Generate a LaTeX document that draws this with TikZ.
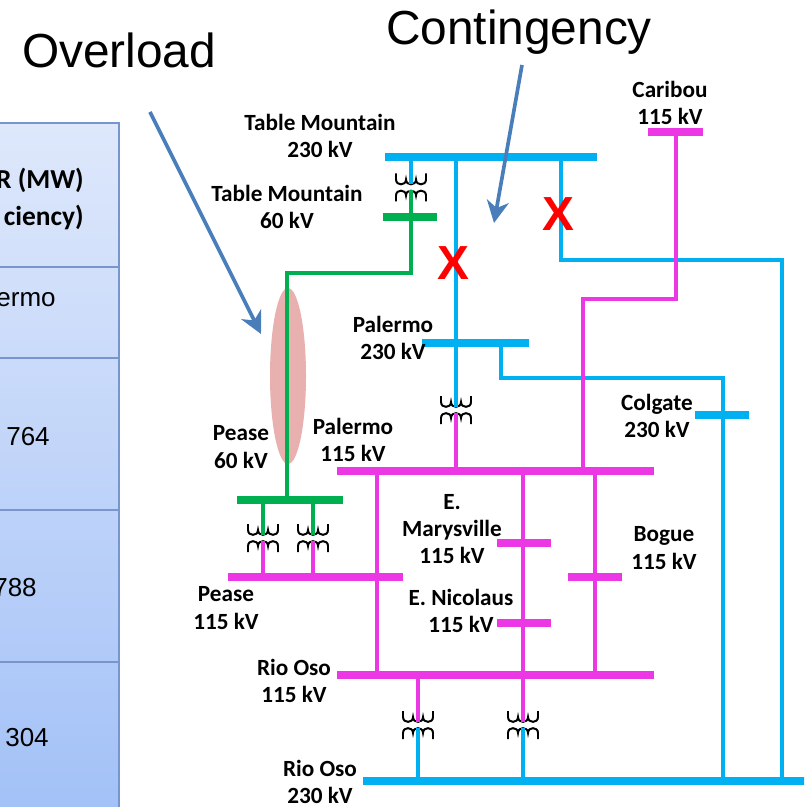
\documentclass[tikz,border=0pt]{standalone}
\usepackage{fontspec}
\setmainfont{Liberation Sans}
\newfontfamily\lblfont{Carlito}
\usetikzlibrary{positioning, arrows.meta, shapes.geometric, calc}

\definecolor{busblue}{RGB}{0,176,240}
\definecolor{busmag}{RGB}{236,56,228}
\definecolor{busgreen}{RGB}{0,176,80}
\definecolor{callblue}{RGB}{74,126,187}
\definecolor{hotpink}{RGB}{232,176,174}
\definecolor{tabtop}{RGB}{222,232,251}
\definecolor{tabbot}{RGB}{163,193,247}
\definecolor{tabrule}{RGB}{120,150,205}

% transformer symbol, two windings facing each other
\tikzset{
    xfmr/.pic={
        \draw[line width=1.4pt, black] (-15,-14) -- (-15,-8)
            .. controls (-15,-1.5) and (-5,-1.5) .. (-5,-8)
            .. controls (-5,-1.5) and (5,-1.5) .. (5,-8)
            .. controls (5,-1.5) and (15,-1.5) .. (15,-8) -- (15,-14);
        \draw[line width=1.4pt, black] (-15,14) -- (-15,8)
            .. controls (-15,1.5) and (-5,1.5) .. (-5,8)
            .. controls (-5,1.5) and (5,1.5) .. (5,8)
            .. controls (5,1.5) and (15,1.5) .. (15,8) -- (15,14);
        \coordinate (-hv) at (0,-3);
        \coordinate (-lv) at (0,3);
    }
}

\begin{document}
\begin{tikzpicture}[
    x=0.025cm, y=-0.025cm,
    % Node styles
    bus/.style={
        rectangle,
        inner sep=0pt,
        minimum height=0.21cm,
        fill=#1
    },
    bus/.default=busblue,
    feeder/.style={
        draw=#1,
        line width=2.8pt
    },
    feeder/.default=busblue,
    lbl/.style={
        font=\lblfont\bfseries\fontsize{16.5}{19.5}\selectfont,
        align=center,
        inner sep=0pt
    },
    tabtext/.style={
        font=\fontsize{18.5}{22}\selectfont,
        inner sep=0pt
    },
    tabhead/.style={
        font=\lblfont\bfseries\fontsize{19.5}{23}\selectfont,
        inner sep=0pt
    },
    bigtext/.style={
        font=\fontsize{34}{40}\selectfont,
        inner sep=0pt
    },
    xmark/.style={
        font=\bfseries\fontsize{34}{40}\selectfont,
        text=red,
        inner sep=0pt
    },
    hotspot/.style={
        ellipse,
        fill=hotpink,
        minimum width=0.9cm,
        minimum height=4.4cm,
        inner sep=0pt
    },
    callout/.style={
        -{Stealth[length=0.55cm, width=0.55cm, inset=0.17cm]},
        line width=2.6pt,
        draw=callblue
    }
]
\useasboundingbox (0,0) rectangle (804,807);
\clip (0,0) rectangle (804,807);

% Table on the left (cut off)
\shade[top color=tabtop, bottom color=tabbot] (-5,123) rectangle (119,812);
\draw[tabrule, line width=1.5pt] (-5,123) -- (119,123) -- (119,812);
\foreach \y in {267,358,510,662} {
    \draw[tabrule, line width=1.5pt] (-5,\y) -- (119,\y);
}
\node[tabhead, anchor=base east] (hdrmw) at (84,189) {R (MW)};
\node[tabhead, anchor=base east] (hdreff) at (84,226) {ciency)};
\node[tabtext, anchor=base east] (rowpal) at (56,306) {ermo};
\node[tabtext, anchor=base east] (rowa) at (50,445) {764};
\node[tabtext, anchor=base east] (rowb) at (37,596) {788};
\node[tabtext, anchor=base east] (rowc) at (49,746) {304};

% Overloaded line
\node[hotspot] (hot) at (288,376) {};

% Transformers
\pic (t1) at (411,187.5) {xfmr};
\pic (t2) at (456,410) {xfmr};
\pic (t3) at (263,538) {xfmr};
\pic (t4) at (313,538) {xfmr};
\pic (t5) at (418,725) {xfmr};
\pic (t6) at (523,725) {xfmr};

% Buses
\node[bus=busblue, minimum width=5.3cm] (tm230) at (491,157) {};
\node[bus=busgreen, minimum width=1.35cm] (tm60) at (410,217) {};
\node[bus=busmag, minimum width=1.375cm] (caribou) at (675.5,132) {};
\node[bus=busblue, minimum width=2.675cm] (pal230) at (475.5,343) {};
\node[bus=busblue, minimum width=1.35cm] (colgate) at (722,415) {};
\node[bus=busmag, minimum width=7.925cm] (pal115) at (495.5,471) {};
\node[bus=busgreen, minimum width=2.65cm] (pease60) at (290,500) {};
\node[bus=busmag, minimum width=4.375cm] (pease115) at (315.5,577) {};
\node[bus=busmag, minimum width=1.35cm] (emary) at (524,543) {};
\node[bus=busmag, minimum width=1.35cm] (enic) at (524,623) {};
\node[bus=busmag, minimum width=1.35cm] (bogue) at (595,577) {};
\node[bus=busmag, minimum width=7.925cm] (rio115) at (495.5,675) {};
\node[bus=busblue, minimum width=11.175cm] (rio230) at (586.5,781) {};

% 230 kV lines
\draw[feeder] (456,0 |- tm230) -- (456,0 |- pal230) -- (t2-hv);
\draw[feeder] (561,0 |- tm230) |- (782,260) -- (782,0 |- rio230);
\draw[feeder] (501,0 |- pal230) |- (723,378) -- (723,0 |- rio230);
\draw[feeder] (t1-hv |- tm230) -- (t1-hv);
\draw[feeder] (t5-lv) -- (t5-lv |- rio230);
\draw[feeder] (t6-lv) -- (t6-lv |- rio230);

% 60 kV lines
\draw[feeder=busgreen] (t1-lv) |- (287,273) -- (287,0 |- pease60);
\draw[feeder=busgreen] (t3-hv |- pease60) -- (t3-hv);
\draw[feeder=busgreen] (t4-hv |- pease60) -- (t4-hv);

% 115 kV lines
\draw[feeder=busmag] (t2-lv) -- (t2-lv |- pal115);
\draw[feeder=busmag] (676,0 |- caribou) |- (583,299) -- (583,0 |- pal115);
\draw[feeder=busmag] (377,0 |- pal115) -- (377,0 |- rio115);
\draw[feeder=busmag] (523,0 |- pal115) -- (523,0 |- rio115);
\draw[feeder=busmag] (595,0 |- pal115) -- (595,0 |- rio115);
\draw[feeder=busmag] (t3-lv) -- (t3-lv |- pease115);
\draw[feeder=busmag] (t4-lv) -- (t4-lv |- pease115);
\draw[feeder=busmag] (t5-hv |- rio115) -- (t5-hv);
\draw[feeder=busmag] (t6-hv |- rio115) -- (t6-hv);

% Bus labels
\node[lbl] (lbltm230) at (320,136) {Table Mountain\\230 kV};
\node[lbl] (lbltm60) at (287,207) {Table Mountain\\60 kV};
\node[lbl] (lblcaribou) at (670,103) {Caribou\\115 kV};
\node[lbl] (lblpal230) at (393,338) {Palermo\\230 kV};
\node[lbl] (lblcolgate) at (657,416) {Colgate\\230 kV};
\node[lbl] (lblpease60) at (241,447) {Pease\\60 kV};
\node[lbl] (lblpal115) at (353,440) {Palermo\\115 kV};
\node[lbl] (lblemary) at (452,529) {E.\\Marysville\\115 kV};
\node[lbl] (lblbogue) at (664,548) {Bogue\\115 kV};
\node[lbl] (lblenic) at (461,611) {E. Nicolaus\\115 kV};
\node[lbl] (lblpease115) at (226,608) {Pease\\115 kV};
\node[lbl] (lblrio115) at (294,681) {Rio Oso\\115 kV};
\node[lbl] (lblrio230) at (320,782) {Rio Oso\\230 kV};

% Outaged lines
\node[xmark] (out1) at (453,263) {X};
\node[xmark] (out2) at (558,214) {X};

% Callouts
\node[bigtext, anchor=base] (ovl) at (119,68) {Overload};
\node[bigtext, anchor=base] (ctg) at (519,45) {Contingency};
\coordinate (ovlfrom) at (150,112);
\coordinate (ovltip) at (261,334);
\coordinate (ctgfrom) at (522,65);
\coordinate (ctgtip) at (494,223);
\draw[callout] (ovlfrom) -- (ovltip);
\draw[callout] (ctgfrom) -- (ctgtip);

\end{tikzpicture}
\end{document}
